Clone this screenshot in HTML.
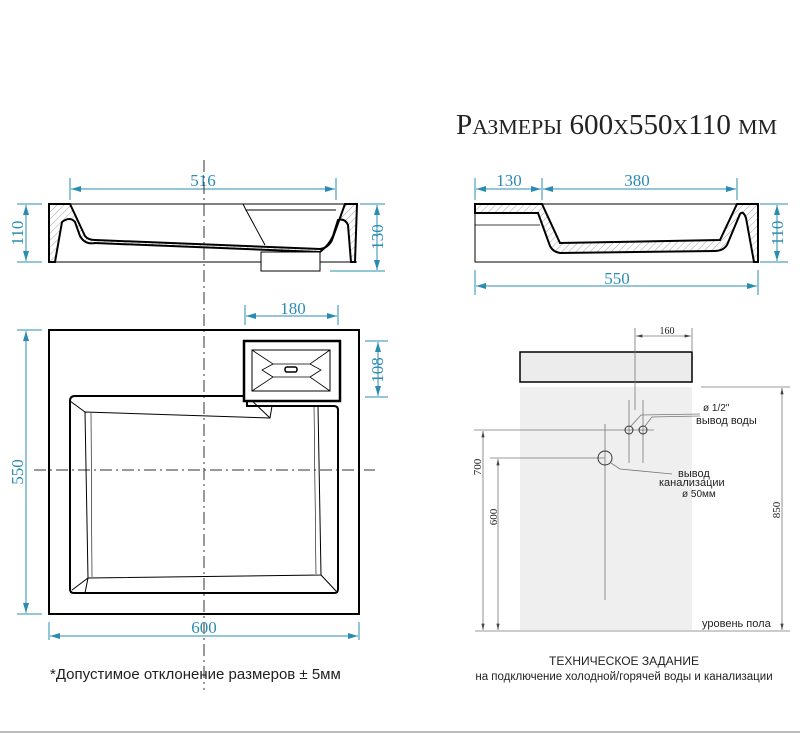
<!DOCTYPE html>
<html><head><meta charset="utf-8"><style>
html,body{margin:0;padding:0;background:#fff;width:800px;height:735px;overflow:hidden}
svg{display:block}
.d{stroke:#2b8cb2;stroke-width:1;fill:none}
.dt{fill:#2b8cb2;font-family:"Liberation Serif",serif;font-size:17px}
.k{stroke:#000;fill:none}
.g{stroke:#777;stroke-width:0.8;fill:none}
.s{font-family:"Liberation Sans",sans-serif;fill:#222}
</style></head><body>
<svg width="800" height="735" viewBox="0 0 800 735" xmlns="http://www.w3.org/2000/svg">
<defs>
<marker id="a" viewBox="0 0 10 6" refX="10" refY="3" markerWidth="10" markerHeight="6" orient="auto-start-reverse"><path d="M0,0L10,3L0,6z" fill="#2b8cb2"/></marker>
<marker id="b" viewBox="0 0 8 4" refX="8" refY="2" markerWidth="8" markerHeight="4" orient="auto-start-reverse"><path d="M0,0L8,2L0,4z" fill="#444"/></marker>
<pattern id="h" width="5" height="5" patternUnits="userSpaceOnUse" patternTransform="rotate(45)"><line x1="0" y1="0" x2="0" y2="5" stroke="#666" stroke-width="0.6"/></pattern>
</defs>

<text x="456" y="134" font-family="Liberation Serif,serif" font-size="28" fill="#222" textLength="321" lengthAdjust="spacingAndGlyphs">Р<tspan font-size="21">АЗМЕРЫ</tspan> 600<tspan font-size="21">Х</tspan>550<tspan font-size="21">Х</tspan>110 <tspan font-size="21">ММ</tspan></text>

<!-- left side section -->
<line class="d" x1="70" y1="178" x2="70" y2="200"/><line class="d" x1="336" y1="178" x2="336" y2="200"/>
<line class="d" x1="71" y1="189" x2="335" y2="189" marker-start="url(#a)" marker-end="url(#a)"/>
<text class="dt" x="203" y="186" text-anchor="middle">516</text>
<line class="d" x1="17" y1="204" x2="42" y2="204"/><line class="d" x1="17" y1="262" x2="42" y2="262"/>
<line class="d" x1="26" y1="205" x2="26" y2="261" marker-start="url(#a)" marker-end="url(#a)"/>
<text class="dt" transform="translate(23,233) rotate(-90)" text-anchor="middle">110</text>
<line class="d" x1="360" y1="204" x2="385" y2="204"/><line class="d" x1="330" y1="271" x2="385" y2="271"/>
<line class="d" x1="377" y1="205" x2="377" y2="270" marker-start="url(#a)" marker-end="url(#a)"/>
<text class="dt" transform="translate(383,237) rotate(-90)" text-anchor="middle">130</text>
<line x1="49" y1="204" x2="357" y2="204" stroke="#000" stroke-width="1"/>
<line x1="49" y1="262" x2="357" y2="262" stroke="#000" stroke-width="1"/>
<path d="M49,204 L70,204 L85,236 Q88,240 95,240 L320,249 Q328,248 332,240 L345,204 L357,204 L355,262 L351,262 L348,225 Q345,218 338,220 L333,236 Q329,245 320,252 L95,243 Q85,245 80,236 L75,222 Q70,216 62,222 L55,262 L49,262 Z" fill="url(#h)" stroke="#000" stroke-width="2"/>
<path d="M243,204 L246,210 L336,210" class="k"/>
<path d="M246,210 L265,245" class="k"/>
<rect x="261" y="252" width="59" height="19" fill="#fff" stroke="#000"/>

<!-- right side section -->
<line class="d" x1="475" y1="178" x2="475" y2="200"/><line class="d" x1="542" y1="178" x2="542" y2="200"/><line class="d" x1="737" y1="178" x2="737" y2="200"/>
<line class="d" x1="476" y1="189" x2="541" y2="189" marker-start="url(#a)" marker-end="url(#a)"/>
<line class="d" x1="543" y1="189" x2="736" y2="189" marker-start="url(#a)" marker-end="url(#a)"/>
<text class="dt" x="509" y="186" text-anchor="middle">130</text>
<text class="dt" x="637" y="186" text-anchor="middle">380</text>
<line class="d" x1="760" y1="204" x2="788" y2="204"/><line class="d" x1="760" y1="262" x2="788" y2="262"/>
<line class="d" x1="777" y1="205" x2="777" y2="261" marker-start="url(#a)" marker-end="url(#a)"/>
<text class="dt" transform="translate(783,233) rotate(-90)" text-anchor="middle">110</text>
<line class="d" x1="475" y1="270" x2="475" y2="295"/><line class="d" x1="758" y1="270" x2="758" y2="295"/>
<line class="d" x1="476" y1="286" x2="757" y2="286" marker-start="url(#a)" marker-end="url(#a)"/>
<text class="dt" x="617" y="284" text-anchor="middle">550</text>
<rect x="475" y="204" width="283" height="58" fill="none" stroke="#000"/>
<line x1="475" y1="225" x2="540" y2="225" stroke="#000" stroke-width="0.8"/>
<path d="M475,204 L542,204 L560,243 L720,240 L737,204 L758,204 L758,262 L754,262 L746,218 Q743,210 740,214 L727,245 Q723,251 715,251 L560,253 Q553,252 550,246 L538,213 L475,213 Z" fill="url(#h)" stroke="#000" stroke-width="2"/>

<!-- top view -->
<path d="M204,160 V690" stroke="#333" stroke-dasharray="12,4,2,4"/>
<path d="M34,470 H375" stroke="#333" stroke-dasharray="12,4,2,4"/>
<rect x="49" y="330" width="310" height="284" fill="none" stroke="#000" stroke-width="2"/>
<path d="M75,396 L247,396 L247,406 L334,406 Q338,406 338,410 L338,589 Q338,593 334,593 L74,593 Q70,593 70,589 L70,401 Q70,396 75,396Z" fill="none" stroke="#000" stroke-width="2"/>
<path d="M85,412 L270,418 L272,406 M85,412 L88,578 L321,575 L318,406" class="k"/>
<path d="M91,413 L92,577 M314,406 L316,574" class="k" stroke-width="0.6"/>
<line x1="70" y1="401" x2="85" y2="412" stroke="#000"/><line x1="85" y1="593" x2="88" y2="578" stroke="#000"/>
<line x1="72" y1="590" x2="88" y2="578" stroke="#000"/><line x1="336" y1="591" x2="321" y2="575" stroke="#000"/>
<line x1="248" y1="397" x2="270" y2="418" stroke="#000"/>
<rect x="244" y="341" width="96" height="60" fill="#fff" stroke="#000" stroke-width="2.5"/>
<rect x="252" y="350" width="78" height="41" fill="none" stroke="#000"/>
<path d="M252,350 L273,364 L310,364 L330,350 M252,391 L273,377 L310,377 L330,391 M273,364 L262,370 L273,377 M310,364 L321,370 L310,377" class="k" stroke-width="0.8"/>
<rect x="285" y="367" width="12" height="5" rx="2" fill="#fff" stroke="#000" stroke-width="1.5"/>
<line class="d" x1="245" y1="305" x2="245" y2="325"/><line class="d" x1="338" y1="305" x2="338" y2="325"/>
<line class="d" x1="246" y1="316" x2="337" y2="316" marker-start="url(#a)" marker-end="url(#a)"/>
<text class="dt" x="293" y="314" text-anchor="middle">180</text>
<line class="d" x1="365" y1="341" x2="388" y2="341"/><line class="d" x1="365" y1="397" x2="388" y2="397"/>
<line class="d" x1="378" y1="342" x2="378" y2="396" marker-start="url(#a)" marker-end="url(#a)"/>
<text class="dt" transform="translate(383,370) rotate(-90)" text-anchor="middle">108</text>
<line class="d" x1="17" y1="330" x2="42" y2="330"/><line class="d" x1="17" y1="614" x2="42" y2="614"/>
<line class="d" x1="26" y1="331" x2="26" y2="613" marker-start="url(#a)" marker-end="url(#a)"/>
<text class="dt" transform="translate(23,472) rotate(-90)" text-anchor="middle">550</text>
<line class="d" x1="49" y1="622" x2="49" y2="640"/><line class="d" x1="359" y1="622" x2="359" y2="640"/>
<line class="d" x1="50" y1="636" x2="358" y2="636" marker-start="url(#a)" marker-end="url(#a)"/>
<text class="dt" x="204" y="633" text-anchor="middle">600</text>

<!-- installation -->
<rect x="520" y="387" width="172" height="243" fill="#efefef"/>
<rect x="520" y="352" width="172" height="30" fill="#ececec" stroke="#000" stroke-width="1.5"/>
<line class="g" x1="635" y1="328" x2="635" y2="410"/><line class="g" x1="692" y1="328" x2="692" y2="352"/>
<line class="g" x1="636" y1="336" x2="691" y2="336" marker-start="url(#b)" marker-end="url(#b)"/>
<text x="667" y="334" font-family="Liberation Serif,serif" font-size="10" text-anchor="middle" fill="#222">160</text>
<line class="g" x1="629" y1="400" x2="629" y2="463"/><line class="g" x1="643" y1="400" x2="643" y2="463"/>
<line class="g" x1="605" y1="424" x2="605" y2="600"/>
<line class="g" x1="474" y1="430" x2="654" y2="430"/><line class="g" x1="490" y1="458" x2="605" y2="458"/>
<circle cx="629" cy="430" r="4" fill="none" stroke="#333"/><circle cx="643" cy="430" r="4" fill="none" stroke="#333"/>
<circle cx="605" cy="458" r="7" fill="none" stroke="#333"/>
<path d="M631,426 L641,415 L700,414 M645,426 L652,417 L700,416" class="g"/>
<path d="M611,463 L620,469 L672,474" class="g"/>
<text class="s" x="703" y="411" font-size="10">ø 1/2"</text>
<text class="s" x="696" y="424" font-size="11">вывод воды</text>
<text class="s" x="678" y="477" font-size="11">вывод</text>
<text class="s" x="659" y="486" font-size="11">канализации</text>
<text class="s" x="682" y="497" font-size="10">ø 50мм</text>
<line class="g" x1="701" y1="387" x2="790" y2="387"/>
<line class="g" x1="475" y1="631" x2="790" y2="631"/>
<line class="g" x1="483" y1="431" x2="483" y2="630" marker-start="url(#b)" marker-end="url(#b)"/>
<line class="g" x1="498" y1="459" x2="498" y2="630" marker-start="url(#b)" marker-end="url(#b)"/>
<line class="g" x1="782" y1="388" x2="782" y2="630" marker-start="url(#b)" marker-end="url(#b)"/>
<text transform="translate(481,467) rotate(-90)" font-family="Liberation Serif,serif" font-size="11" text-anchor="middle" fill="#222">700</text>
<text transform="translate(497,517) rotate(-90)" font-family="Liberation Serif,serif" font-size="11" text-anchor="middle" fill="#222">600</text>
<text transform="translate(780,510) rotate(-90)" font-family="Liberation Serif,serif" font-size="11" text-anchor="middle" fill="#222">850</text>
<text class="s" x="702" y="627" font-size="11">уровень пола</text>

<text class="s" x="50" y="679" font-size="15">*Допустимое отклонение размеров ± 5мм</text>
<text class="s" x="624" y="665" font-size="12" text-anchor="middle">ТЕХНИЧЕСКОЕ ЗАДАНИЕ</text>
<text class="s" x="624" y="680" font-size="11.5" text-anchor="middle">на подключение холодной/горячей воды и канализации</text>
<line x1="0" y1="732" x2="800" y2="732" stroke="#bbb" stroke-width="2"/>
</svg>
</body></html>
